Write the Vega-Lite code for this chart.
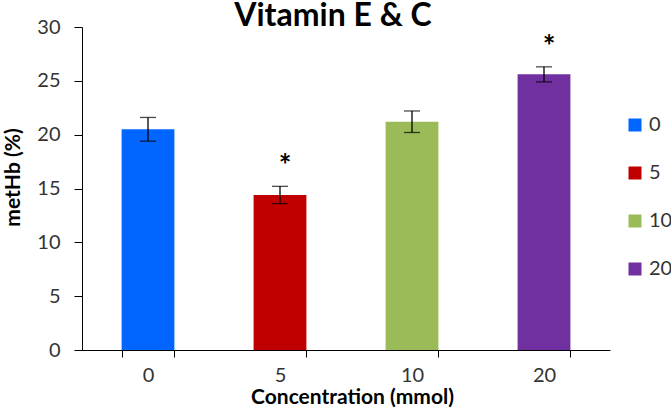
{
  "$schema": "https://vega.github.io/schema/vega-lite/v6.json",
  "autosize": "none",
  "width": 528,
  "height": 323,
  "padding": {"left": 82, "top": 27, "right": 61, "bottom": 59},
  "background": "white",
  "title": {"text": "Vitamin E & C", "font": "Lato", "fontSize": 32, "fontWeight": "bold", "color": "#000000", "anchor": "middle", "frame": "group", "dx": -13, "dy": 41, "offset": 0, "baseline": "alphabetic"},
  "config": {
    "view": {"stroke": null},
    "axis": {"grid": false, "domainColor": "#000000", "tickColor": "#000000", "labelFont": "Lato", "labelFontSize": 20, "labelColor": "#333333", "titleFont": "Lato", "titleFontSize": 21, "titleColor": "#000000", "titleFontWeight": "bold"}
  },
  "data": {"values": [
    {"conc": 0, "metHb": 20.5, "lo": 19.4, "hi": 21.6, "sig": ""},
    {"conc": 5, "metHb": 14.4, "lo": 13.6, "hi": 15.2, "sig": "*"},
    {"conc": 10, "metHb": 21.2, "lo": 20.2, "hi": 22.2, "sig": ""},
    {"conc": 20, "metHb": 25.6, "lo": 24.9, "hi": 26.3, "sig": "*"}
  ]},
  "encoding": {
    "x": {"field": "conc", "type": "ordinal", "scale": {"paddingInner": 0.6, "paddingOuter": 0.3},
      "axis": {"title": "Concentration (mmol)", "labelAngle": 0, "tickBand": "extent", "tickSize": 7, "labelPadding": 8, "titleX": 270, "titleY": 53, "titleBaseline": "alphabetic", "titleAlign": "center"}}
  },
  "layer": [
    {
      "mark": {"type": "bar"},
      "encoding": {
        "y": {"field": "metHb", "type": "quantitative", "scale": {"domain": [0, 30]},
          "axis": {"title": "metHb (%)", "values": [0, 5, 10, 15, 20, 25, 30], "tickSize": 8, "labelPadding": 14, "titleX": -69, "titleY": 150, "titleAngle": -90, "titleBaseline": "middle", "titleAlign": "center"}},
        "color": {"field": "conc", "type": "ordinal",
          "scale": {"domain": [0, 5, 10, 20], "range": ["#0066FF", "#C00000", "#9BBB59", "#7030A0"]},
          "legend": {"title": null, "orient": "none", "legendX": 543, "legendY": 88, "symbolType": "square", "symbolSize": 169, "symbolStrokeWidth": 0, "labelFont": "Lato", "labelFontSize": 20, "labelColor": "#333333", "rowPadding": 28, "labelOffset": 4, "padding": 0}}
      }
    },
    {
      "mark": {"type": "rule", "color": "#000000", "strokeWidth": 1.3},
      "encoding": {"y": {"field": "lo", "type": "quantitative"}, "y2": {"field": "hi"}}
    },
    {
      "mark": {"type": "tick", "color": "#000000", "size": 16, "thickness": 1.3},
      "encoding": {"y": {"field": "lo", "type": "quantitative"}}
    },
    {
      "mark": {"type": "tick", "color": "#000000", "size": 16, "thickness": 1.3},
      "encoding": {"y": {"field": "hi", "type": "quantitative"}}
    },
    {
      "transform": [{"filter": "datum.sig == '*'"}],
      "mark": {"type": "text", "font": "Lato", "fontSize": 30, "fontWeight": "bold", "color": "#000000", "baseline": "alphabetic", "dy": -10, "dx": 5},
      "encoding": {"y": {"field": "hi", "type": "quantitative"}, "text": {"field": "sig"}}
    }
  ]
}
